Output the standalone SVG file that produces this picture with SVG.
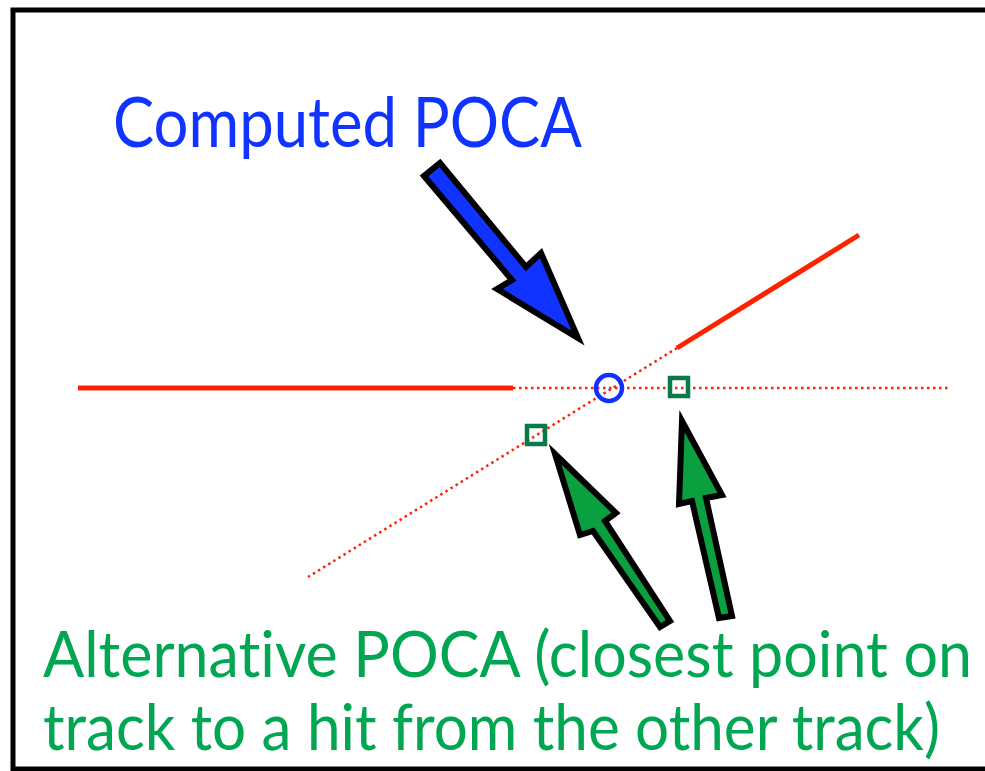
<svg xmlns="http://www.w3.org/2000/svg" width="985" height="771" viewBox="0 0 985 771">
<style>
.track{stroke:#ff2200;fill:none;stroke-width:5;stroke-linecap:butt}
.dot{stroke:#ff2200;fill:none;stroke-width:2.5;stroke-dasharray:2.5 3.5}
.arrow{stroke:#000;stroke-width:6;stroke-linejoin:miter;stroke-miterlimit:10}
.hit{fill:none;stroke:#087a48;stroke-width:4.5}
.lbl{font-family:Lato,"Liberation Sans",sans-serif;font-variant-ligatures:none}
</style>
<rect x="0" y="0" width="985" height="771" fill="#fff"/>
<rect id="frame" x="13" y="10" width="1000" height="759" fill="none" stroke="#000" stroke-width="5"/>
<g id="tracks">
<line class="track" x1="78" y1="388" x2="513" y2="388"/>
<line class="dot" x1="513" y1="388" x2="950" y2="388"/>
<line class="track" x1="677" y1="348" x2="859" y2="235"/>
<line class="dot" x1="677" y1="348" x2="308" y2="577"/>
</g>
<g id="poca">
<circle cx="609" cy="388" r="13" fill="none" stroke="#1030ff" stroke-width="4.5"/>
</g>
<g id="alt1"><rect class="hit" x="670" y="378" width="18" height="18"/></g>
<g id="alt2"><rect class="hit" x="527" y="426" width="18" height="18"/></g>
<g id="connectors">
<polygon class="arrow" fill="#1133ff" points="424,176 512,280 497,289 578,338 541,253 526,267 440,163"/>
<polygon class="arrow" fill="#0aa040" points="555,454 616,513 605,521 670,621 660,627 593,531 580,535"/>
<polygon class="arrow" fill="#0aa040" points="682,421 722,495 706,498 732,616 719,618 692,501 679,504"/>
</g>
<g id="label-computed">
<text class="lbl" x="113" y="147" font-size="70" fill="#1133ff" textLength="469" lengthAdjust="spacingAndGlyphs">Computed POCA</text>
</g>
<g id="label-alt">
<text class="lbl" x="43" y="677" font-size="64" fill="#00a651" textLength="929" lengthAdjust="spacingAndGlyphs">Alternative POCA (closest point on</text>
<text class="lbl" x="43" y="750" font-size="64" fill="#00a651" textLength="897" lengthAdjust="spacingAndGlyphs">track to a hit from the other track)</text>
</g>
</svg>
